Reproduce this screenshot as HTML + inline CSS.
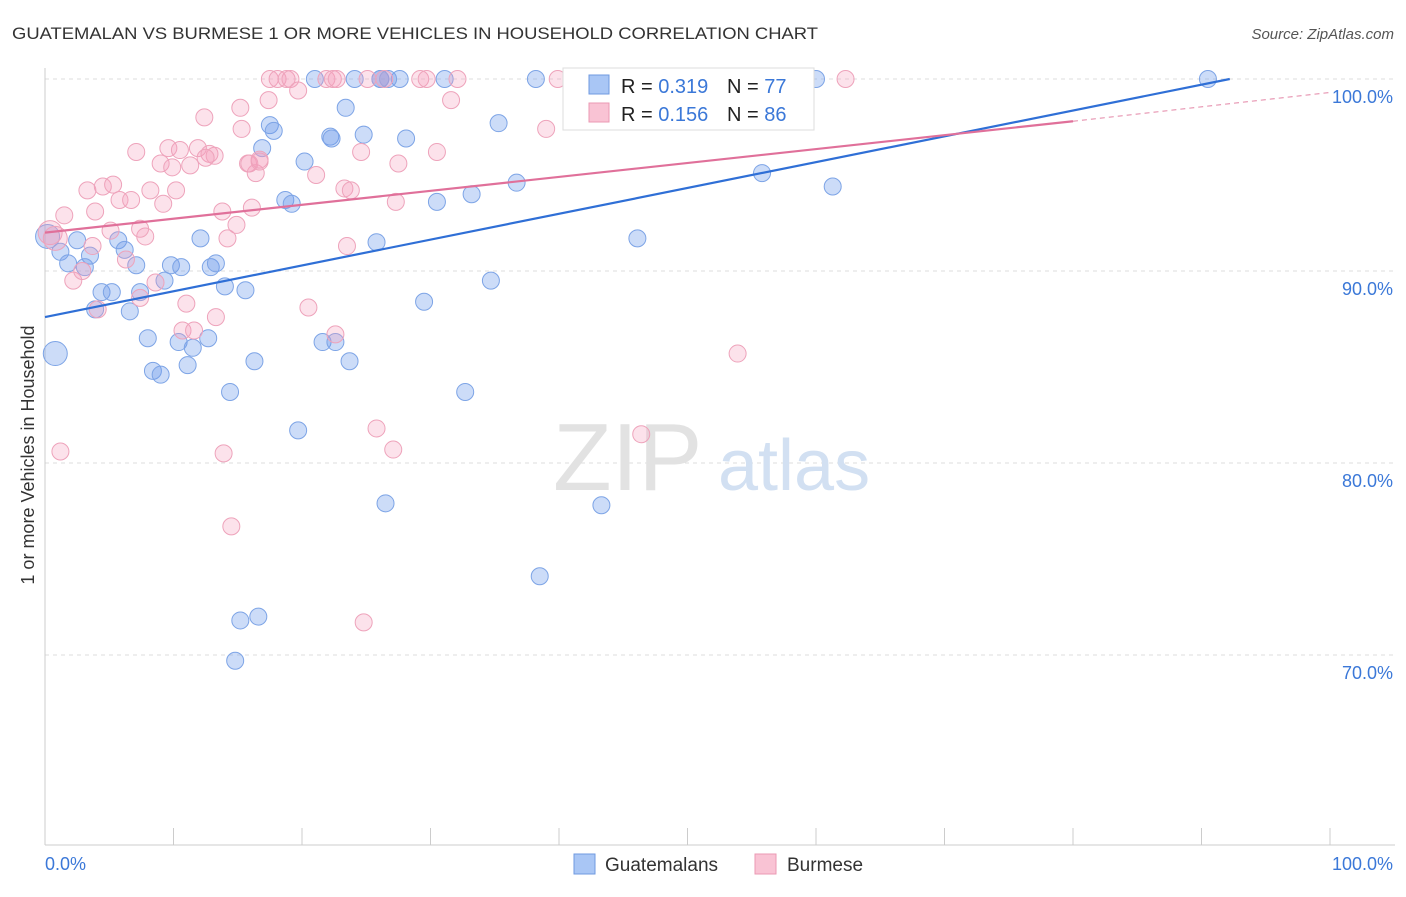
<!DOCTYPE html>
<html><head><meta charset="utf-8"><style>
body{margin:0;background:#fff;font-family:"Liberation Sans",sans-serif}
svg text{font-family:"Liberation Sans",sans-serif}
</style></head><body>
<svg id="c" width="1406" height="892" xmlns="http://www.w3.org/2000/svg">
<text x="12" y="39" font-size="17" fill="#333" textLength="806" lengthAdjust="spacingAndGlyphs">GUATEMALAN VS BURMESE 1 OR MORE VEHICLES IN HOUSEHOLD CORRELATION CHART</text>
<text x="1394" y="39" font-size="15" fill="#555" font-style="italic" text-anchor="end">Source: ZipAtlas.com</text>
<text x="34" y="455" font-size="18" fill="#333" text-anchor="middle" transform="rotate(-90 34 455)">1 or more Vehicles in Household</text>
<g id="grid"></g>
<text x="553" y="490" font-size="96" fill="#e2e2e2" font-family="Liberation Serif">ZIP</text>
<text x="718" y="490" font-size="72" fill="#d2e0f2">atlas</text>
<g id="axes"></g>
<g id="pts"></g>
<g id="trend"></g>
<g>
<rect x="563" y="68" width="251" height="62" fill="#fff" stroke="#ddd"/>
<rect x="589" y="75" width="20" height="19" fill="#a9c6f5" stroke="#6f9ae0"/>
<rect x="589" y="103" width="20" height="19" fill="#f9c3d4" stroke="#eb9ab3"/>
<text x="621" y="93" font-size="20" fill="#222">R = <tspan fill="#3b78d8">0.319</tspan></text>
<text x="727" y="93" font-size="20" fill="#222">N = <tspan fill="#3b78d8">77</tspan></text>
<text x="621" y="121" font-size="20" fill="#222">R = <tspan fill="#3b78d8">0.156</tspan></text>
<text x="727" y="121" font-size="20" fill="#222">N = <tspan fill="#3b78d8">86</tspan></text>
</g>
<g>
<rect x="574" y="854" width="21" height="20" fill="#a9c6f5" stroke="#6f9ae0"/>
<text x="605" y="871" font-size="19" fill="#333">Guatemalans</text>
<rect x="755" y="854" width="21" height="20" fill="#f9c3d4" stroke="#eb9ab3"/>
<text x="787" y="871" font-size="19" fill="#333">Burmese</text>
</g>
<text x="45" y="870" font-size="18" fill="#3b78d8">0.0%</text>
<text x="1393" y="870" font-size="18" fill="#3b78d8" text-anchor="end">100.0%</text>
</svg>
<script>
const yTicks=[100,90,80,70];
const yTickLabels=["100.0%","90.0%","80.0%","70.0%"];
const blueX=[0.8,0.2,1.2,2.5,1.8,3.5,3.1,3.9,4.4,5.2,5.7,6.2,6.6,7.1,7.4,8,8.4,9,9.3,9.8,10.4,10.6,11.1,11.5,12.1,12.7,12.9,13.3,14,14.4,15.6,16.3,15.2,16.6,14.8,16.9,17.5,17.8,18.7,19.2,19.7,20.2,21,21.6,22.2,22.3,22.6,23.4,23.7,24.1,24.8,25.8,26.1,26.5,27.6,28.1,29.5,30.5,31.1,32.7,33.2,34.7,35.3,36.7,38.2,38.5,43.3,46.1,52.3,55.8,60,61.3,90.5,26.1,26.7];
const blueY=[85.7,91.8,91,91.6,90.4,90.8,90.2,88,88.9,88.9,91.6,91.1,87.9,90.3,88.9,86.5,84.8,84.6,89.5,90.3,86.3,90.2,85.1,86,91.7,86.5,90.2,90.4,89.2,83.7,89,85.3,71.8,72,69.7,96.4,97.6,97.3,93.7,93.5,81.7,95.7,100,86.3,97,96.9,86.3,98.5,85.3,100,97.1,91.5,100,77.9,100,96.9,88.4,93.6,100,83.7,94,89.5,97.7,94.6,100,74.1,77.8,91.7,100,95.1,100,94.4,100,100,100];
const pinkX=[0.4,0.8,1.2,1.5,2.2,2.9,3.3,3.9,4.1,4.5,5.1,5.3,5.8,6.3,6.7,7.1,7.4,7.8,8.2,8.6,9,9.2,9.6,9.9,10.2,10.7,11,11.3,11.6,11.9,12.4,12.8,13.2,13.3,13.8,13.9,14.2,14.5,14.9,15.2,15.3,15.8,16.1,16.4,16.7,17.4,17.5,18.1,18.8,19.1,19.7,20.5,21.1,21.9,22.4,22.6,23.3,23.5,23.8,24.6,24.8,25.1,25.8,26.4,27.1,27.3,27.5,29.2,29.7,30.5,31.6,32.1,39,39.9,46.4,53.9,62.3,22.7,15.9,12.5,10.5,3.7,7.4,16.7];
const pinkY=[92,91.7,80.6,92.9,89.5,90,94.2,93.1,88,94.4,92.1,94.5,93.7,90.6,93.7,96.2,88.6,91.8,94.2,89.4,95.6,93.5,96.4,95.4,94.2,86.9,88.3,95.5,86.9,96.4,98,96.1,96,87.6,93.1,80.5,91.7,76.7,92.4,98.5,97.4,95.6,93.3,95.1,95.7,98.9,100,100,100,100,99.4,88.1,95,100,100,86.7,94.3,91.3,94.2,96.2,71.7,100,81.8,100,80.7,93.6,95.6,100,100,96.2,98.9,100,97.4,100,81.5,85.7,100,100,95.6,95.9,96.3,91.3,92.2,95.8];
const X=v=>45+v*12.85, Y=v=>79+(100-v)*19.2;
const NS="http://www.w3.org/2000/svg";
function mk(t,a,p){const e=document.createElementNS(NS,t);for(const k in a)e.setAttribute(k,a[k]);p.appendChild(e);return e;}
const grid=document.getElementById('grid'),axes=document.getElementById('axes');
yTicks.forEach((t,i)=>{
 const l=mk('line',{x1:45,x2:1395,y1:Y(t),y2:Y(t),stroke:'#ddd','stroke-dasharray':'4 4'},grid);
 
 
 const tx=mk('text',{x:1393,y:Y(t)+24,'font-size':18,fill:'#3b78d8','text-anchor':'end'},axes);
 tx.textContent=yTickLabels[i];
 
 
});
const ax=mk('line',{x1:45,x2:45,y1:68,y2:845,stroke:'#ccc'},axes);


const bx=mk('line',{x1:45,x2:1395,y1:845,y2:845,stroke:'#ccc'},axes);


for(let i=0;i<=10;i++){const t=mk('line',{x1:X(i*10),x2:X(i*10),y1:828,y2:845,stroke:'#ccc'},axes);
 
 }
const pts=document.getElementById('pts');
blueX.forEach((x,i)=>{const c=mk('circle',{cx:X(x),cy:Y(blueY[i]),r:(i<2?12:8.5),fill:'rgba(110,155,235,0.35)',stroke:'#7da4e6','stroke-width':1},pts);
 
 });
pinkX.forEach((x,i)=>{const c=mk('circle',{cx:X(x),cy:Y(pinkY[i]),r:(i<2?12:8.5),fill:'rgba(245,160,190,0.3)',stroke:'#eea3bb','stroke-width':1},pts);
 
 });
const tr=document.getElementById('trend');
const b=mk('line',{x1:X(0),y1:Y(87.6),x2:X(92.2),y2:Y(100),stroke:'#2f6fd6','stroke-width':2.2},tr);


const p=mk('line',{x1:X(0),y1:Y(92),x2:X(80),y2:Y(97.8),stroke:'#e0709a','stroke-width':2.2},tr);


const pd=mk('line',{x1:X(80),y1:Y(97.8),x2:X(100),y2:Y(99.3),stroke:'#e89ab5','stroke-width':1.2,'stroke-dasharray':'5 4'},tr);


</script>
</body></html>
